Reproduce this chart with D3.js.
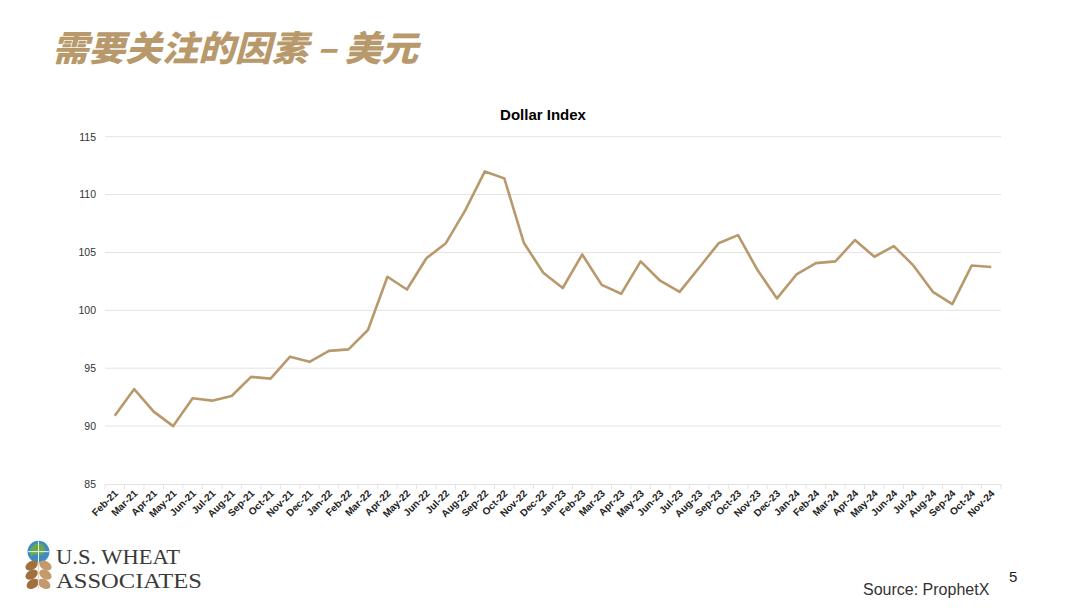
<!DOCTYPE html>
<html><head><meta charset="utf-8">
<script src="https://cdn.jsdelivr.net/npm/d3@7"></script>
<style>
html,body{margin:0;padding:0;background:#fff;}
svg{display:block;}
</style></head>
<body>
<svg id="c" width="1080" height="608"></svg>
<script>
const months = ["Feb-21","Mar-21","Apr-21","May-21","Jun-21","Jul-21","Aug-21","Sep-21","Oct-21","Nov-21","Dec-21",
"Jan-22","Feb-22","Mar-22","Apr-22","May-22","Jun-22","Jul-22","Aug-22","Sep-22","Oct-22","Nov-22","Dec-22",
"Jan-23","Feb-23","Mar-23","Apr-23","May-23","Jun-23","Jul-23","Aug-23","Sep-23","Oct-23","Nov-23","Dec-23",
"Jan-24","Feb-24","Mar-24","Apr-24","May-24","Jun-24","Jul-24","Aug-24","Sep-24","Oct-24","Nov-24"];
const dollarIndex = [90.9,93.2,91.25,90.0,92.4,92.2,92.6,94.25,94.1,96.0,95.55,
96.5,96.63,98.3,102.9,101.8,104.5,105.8,108.66,112.0,111.4,105.84,103.25,
101.93,104.83,102.2,101.43,104.23,102.56,101.6,103.68,105.79,106.5,103.48,101.03,
103.1,104.08,104.23,106.07,104.63,105.55,103.88,101.6,100.54,103.88,103.74];
const yTicks = [85,90,95,100,105,110,115];
const slideTitle = "需要关注的因素 – 美元";
const chartTitle = "Dollar Index";

const svg = d3.select("#c");
const tan = "#b8996b";
const L = 105, R = 1001, T = 136.7, B = 484;

const x = d3.scaleBand().domain(months).range([L, R]).padding(0);
const y = d3.scaleLinear().domain([85,115]).range([B, T]);

// slide title
svg.append("text").attr("x", 52).attr("y", 61)
  .attr("font-family", "'Noto Sans CJK SC', sans-serif")
  .attr("font-size", 35).attr("font-weight", 900).attr("font-style", "italic")
  .attr("fill", tan).attr("textLength", 366).attr("lengthAdjust", "spacingAndGlyphs")
  .text(slideTitle);

// chart title
svg.append("text").attr("x", 543).attr("y", 120).attr("text-anchor", "middle")
  .attr("font-family", "'Liberation Sans', Arial, sans-serif")
  .attr("font-size", 15).attr("font-weight", "bold").attr("fill", "#000")
  .text(chartTitle);

// gridlines
svg.append("g").selectAll("line").data(yTicks.filter(d => d !== 85)).join("line")
  .attr("x1", L).attr("x2", R).attr("y1", d => y(d)).attr("y2", d => y(d))
  .attr("stroke", "#e3e3e3").attr("stroke-width", 1);

// y axis labels
const yAxis = d3.axisLeft(y).tickValues(yTicks).tickSize(0).tickPadding(9);
const gy = svg.append("g").attr("transform", `translate(${L},0)`).call(yAxis);
gy.select(".domain").remove();
gy.selectAll("text").attr("font-family", "'Liberation Sans', Arial, sans-serif")
  .attr("font-size", 10.5).attr("fill", "#333");

// x axis
const xAxis = d3.axisBottom(x).tickSize(0).tickPadding(0);
const gx = svg.append("g").attr("transform", `translate(0,${B})`).call(xAxis);
gx.select(".domain").attr("stroke", "#e3e3e3").attr("stroke-width", 1);
gx.selectAll("text")
  .attr("font-family", "'Liberation Sans', Arial, sans-serif")
  .attr("font-size", 10).attr("font-weight", "bold").attr("fill", "#222")
  .attr("text-anchor", "end")
  .attr("dy", 0)
  .attr("transform", "translate(4,10) rotate(-45)");
// boundary tick marks
svg.append("g").selectAll("line").data(months.concat(["_end"])).join("line")
  .attr("x1", (d,i) => L + i * x.step()).attr("x2", (d,i) => L + i * x.step())
  .attr("y1", B).attr("y2", B + 5)
  .attr("stroke", "#e3e3e3").attr("stroke-width", 1);

// line
const line = d3.line().x((d,i) => x(months[i]) + x.bandwidth()/2).y(d => y(d));
svg.append("path").datum(dollarIndex).attr("d", line)
  .attr("fill", "none").attr("stroke", tan).attr("stroke-width", 2.6)
  .attr("stroke-linejoin", "round");

// logo icon
const logo = svg.append("g").attr("transform", "translate(38.5,562) scale(1.15)");
logo.append("circle").attr("r", 9.5).attr("cy", -9).attr("fill", "#3d8bbf");
logo.append("path").attr("d", "M-7,-12 Q-2,-18 4,-15 Q8,-10 3,-6 Q-2,-8 -7,-5Z").attr("fill", "#6aa84f");
logo.append("line").attr("x1", -9).attr("x2", 9).attr("y1", -9).attr("y2", -9).attr("stroke", "#fff").attr("stroke-width", 0.8);
logo.append("line").attr("x1", 0).attr("x2", 0).attr("y1", -18).attr("y2", 0).attr("stroke", "#fff").attr("stroke-width", 0.8);
const grains = [[-6,3,-30],[6,3,30],[-6,11,-30],[6,11,30],[-5,19,-30],[5,19,30]];
logo.selectAll("ellipse").data(grains).join("ellipse")
  .attr("cx", d => d[0]).attr("cy", d => d[1]).attr("rx", 5.8).attr("ry", 3.8)
  .attr("transform", d => `rotate(${d[2]},${d[0]},${d[1]})`)
  .attr("fill", (d,i) => i % 2 ? "#c49a6c" : "#a0703f");
logo.append("line").attr("x1", 0).attr("x2", 0).attr("y1", 0).attr("y2", 23).attr("stroke", "#e8d8c0").attr("stroke-width", 1);

svg.append("text").attr("x", 56).attr("y", 563.5)
  .attr("font-family", "'Liberation Serif', 'Times New Roman', serif")
  .attr("font-size", 21).attr("fill", "#3a3a3a")
  .attr("textLength", 124).attr("lengthAdjust", "spacingAndGlyphs").text("U.S. WHEAT");
svg.append("text").attr("x", 56).attr("y", 587.5)
  .attr("font-family", "'Liberation Serif', 'Times New Roman', serif")
  .attr("font-size", 21).attr("fill", "#3a3a3a")
  .attr("textLength", 146).attr("lengthAdjust", "spacingAndGlyphs").text("ASSOCIATES");

// source and page number
svg.append("text").attr("x", 863).attr("y", 595)
  .attr("font-family", "'Liberation Sans', Arial, sans-serif")
  .attr("font-size", 16).attr("fill", "#333").text("Source: ProphetX");
svg.append("text").attr("x", 1009).attr("y", 582)
  .attr("font-family", "'Liberation Sans', Arial, sans-serif")
  .attr("font-size", 15).attr("fill", "#222").text("5");
</script>
</body></html>
